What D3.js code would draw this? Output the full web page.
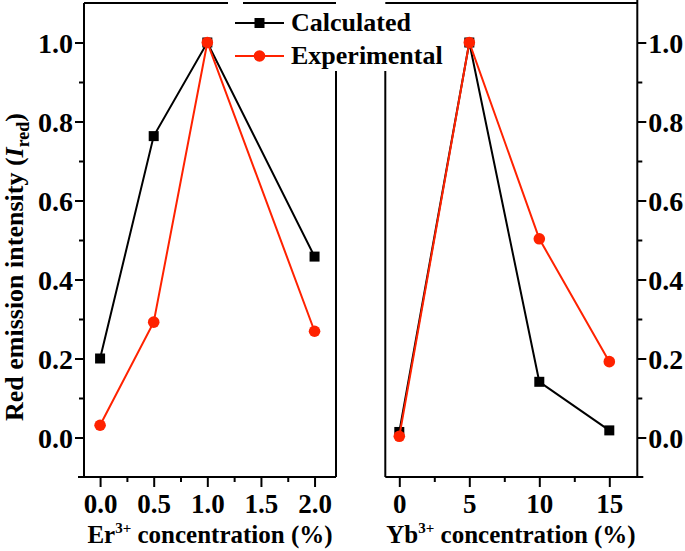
<!DOCTYPE html>
<html>
<head>
<meta charset="utf-8">
<script src="https://cdn.jsdelivr.net/npm/d3@7/dist/d3.min.js"></script>
<style>
  html, body { margin: 0; padding: 0; background: #fff; }
  svg text { font-family: "Liberation Serif", "Times New Roman", serif; font-weight: bold; fill: #000; }
</style>
</head>
<body>
<svg id="chart" width="685" height="551"></svg>
<script>
// ---- data ----
const erConc = [0, 0.5, 1.0, 2.0];
const erCalc = [0.200, 0.763, 1.000, 0.458];
const erExp  = [0.031, 0.292, 1.000, 0.269];

const ybConc = [0, 5, 10, 15];
const ybCalc = [0.014, 1.000, 0.141, 0.018];
const ybExp  = [0.003, 1.000, 0.503, 0.192];

const yTicks = [0, 0.2, 0.4, 0.6, 0.8, 1.0];
const yMinor = [0.1, 0.3, 0.5, 0.7, 0.9];
const erTicks = [0, 0.5, 1.0, 1.5, 2.0];
const erMinor = [0.25, 0.75, 1.25, 1.75];
const ybTicks = [0, 5, 10, 15];
const ybMinor = [2.5, 7.5, 12.5];

const seriesNames = ["Calculated", "Experimental"];

// ---- layout ----
const RED = "#ff2200";
const svg = d3.select("#chart");
const plotTop = 3, plotBottom = 477;
const y = d3.scaleLinear().domain([-0.1, 1.1]).range([plotBottom, plotTop]);
const xEr = d3.scaleLinear().domain([-0.15, 2.2]).range([84, 336]);
const xYb = d3.scaleLinear().domain([-1, 17]).range([385.3, 637.3]);

const fmt1 = d3.format(".1f");

function styleAxis(g, fs) {
  g.select(".domain").remove();
  g.attr("font-family", null);
  g.selectAll(".tick line").attr("stroke", "#000").attr("stroke-width", 2);
  g.selectAll(".tick text").style("font-size", fs + "px").style("font-family", "'Liberation Serif'").style("font-weight", "bold");
}

// Left y axis
const gyL = svg.append("g").attr("transform", `translate(${xEr.range()[0]},0)`)
  .call(d3.axisLeft(y).tickValues(yTicks).tickSize(9).tickPadding(2).tickFormat(fmt1));
styleAxis(gyL, 28);
gyL.selectAll(".tick text").attr("dy", "0.34em");
const gyLm = svg.append("g").attr("transform", `translate(${xEr.range()[0]},0)`)
  .call(d3.axisLeft(y).tickValues(yMinor).tickSize(5).tickFormat(""));
styleAxis(gyLm, 10);

// Right y axis
const gyR = svg.append("g").attr("transform", `translate(${xYb.range()[1]},0)`)
  .call(d3.axisRight(y).tickValues(yTicks).tickSize(9).tickPadding(2).tickFormat(fmt1));
styleAxis(gyR, 28);
gyR.selectAll(".tick text").attr("dy", "0.34em");
const gyRm = svg.append("g").attr("transform", `translate(${xYb.range()[1]},0)`)
  .call(d3.axisRight(y).tickValues(yMinor).tickSize(5).tickFormat(""));
styleAxis(gyRm, 10);

// Bottom axes
const gxEr = svg.append("g").attr("transform", `translate(0,${plotBottom})`)
  .call(d3.axisBottom(xEr).tickValues(erTicks).tickSize(10).tickPadding(7).tickFormat(fmt1));
styleAxis(gxEr, 27);
const gxErm = svg.append("g").attr("transform", `translate(0,${plotBottom})`)
  .call(d3.axisBottom(xEr).tickValues(erMinor).tickSize(5).tickFormat(""));
styleAxis(gxErm, 10);

const gxYb = svg.append("g").attr("transform", `translate(0,${plotBottom})`)
  .call(d3.axisBottom(xYb).tickValues(ybTicks).tickSize(10).tickPadding(7).tickFormat(d3.format("d")));
styleAxis(gxYb, 27);
const gxYbm = svg.append("g").attr("transform", `translate(0,${plotBottom})`)
  .call(d3.axisBottom(xYb).tickValues(ybMinor).tickSize(5).tickFormat(""));
styleAxis(gxYbm, 10);

// ---- frames ----
const frame = svg.append("g").attr("stroke", "#000").attr("stroke-width", 2).attr("fill", "none");
const legTop = 71;
// left panel
frame.append("line").attr("x1", xEr.range()[0]).attr("x2", xEr.range()[0]).attr("y1", plotTop).attr("y2", plotBottom);
frame.append("line").attr("x1", xEr.range()[0] - 6).attr("x2", xEr.range()[1]).attr("y1", plotBottom).attr("y2", plotBottom);
frame.append("line").attr("x1", xEr.range()[0]).attr("x2", 228).attr("y1", plotTop).attr("y2", plotTop);
frame.append("line").attr("x1", 243).attr("x2", xEr.range()[1]).attr("y1", plotTop).attr("y2", plotTop);
frame.append("line").attr("x1", xEr.range()[1]).attr("x2", xEr.range()[1]).attr("y1", legTop).attr("y2", plotBottom);
// right panel
frame.append("line").attr("x1", xYb.range()[1]).attr("x2", xYb.range()[1]).attr("y1", 0).attr("y2", plotBottom);
frame.append("line").attr("x1", xYb.range()[0]).attr("x2", xYb.range()[1] + 6).attr("y1", plotBottom).attr("y2", plotBottom);
frame.append("line").attr("x1", xYb.range()[0]).attr("x2", xYb.range()[1]).attr("y1", plotTop).attr("y2", plotTop);
frame.append("line").attr("x1", xYb.range()[0]).attr("x2", xYb.range()[0]).attr("y1", legTop).attr("y2", plotBottom);

// ---- data series ----
function drawSeries(xs, xv, vals, color, marker) {
  const pts = xv.map((v, i) => [xs(v), y(vals[i])]);
  svg.append("path").attr("d", d3.line()(pts)).attr("fill", "none")
    .attr("stroke", color).attr("stroke-width", 2);
  const g = svg.append("g");
  pts.forEach(p => {
    if (marker === "square") {
      g.append("rect").attr("x", p[0] - 5).attr("y", p[1] - 5).attr("width", 10).attr("height", 10).attr("fill", color);
    } else {
      g.append("circle").attr("cx", p[0]).attr("cy", p[1]).attr("r", 5.8).attr("fill", color);
    }
  });
}
drawSeries(xEr, erConc, erCalc, "#000", "square");
drawSeries(xYb, ybConc, ybCalc, "#000", "square");
drawSeries(xEr, erConc, erExp, RED, "circle");
drawSeries(xYb, ybConc, ybExp, RED, "circle");

// ---- legend ----
const leg = svg.append("g");
const legItems = [
  { name: seriesNames[0], color: "#000", marker: "square", cy: 23 },
  { name: seriesNames[1], color: RED, marker: "circle", cy: 56 }
];
legItems.forEach(it => {
  leg.append("line").attr("x1", 235).attr("x2", 284).attr("y1", it.cy).attr("y2", it.cy)
    .attr("stroke", it.color).attr("stroke-width", 2);
  if (it.marker === "square") {
    leg.append("rect").attr("x", 259.5 - 5).attr("y", it.cy - 5).attr("width", 10).attr("height", 10).attr("fill", it.color);
  } else {
    leg.append("circle").attr("cx", 259.5).attr("cy", it.cy).attr("r", 5.8).attr("fill", it.color);
  }
  leg.append("text").attr("x", 291).attr("y", it.cy + 8).style("font-size", "26px").text(it.name);
});

// ---- axis titles ----
const tEr = svg.append("text").attr("x", 210).attr("y", 543).attr("text-anchor", "middle").style("font-size", "25px");
tEr.append("tspan").text("Er");
tEr.append("tspan").attr("dy", -10).style("font-size", "15px").text("3+");
tEr.append("tspan").attr("dy", 10).text(" concentration (%)");

const tYb = svg.append("text").attr("x", 511).attr("y", 543).attr("text-anchor", "middle").style("font-size", "25px");
tYb.append("tspan").text("Yb");
tYb.append("tspan").attr("dy", -10).style("font-size", "15px").text("3+");
tYb.append("tspan").attr("dy", 10).text(" concentration (%)");

const tY = svg.append("text").attr("transform", "translate(23,267) rotate(-90)").attr("text-anchor", "middle").style("font-size", "26px");
tY.append("tspan").text("Red emission intensity (");
tY.append("tspan").style("font-style", "italic").text("I");
tY.append("tspan").attr("dy", 6).style("font-size", "18px").text("red");
tY.append("tspan").attr("dy", -6).text(")");
</script>
</body>
</html>
